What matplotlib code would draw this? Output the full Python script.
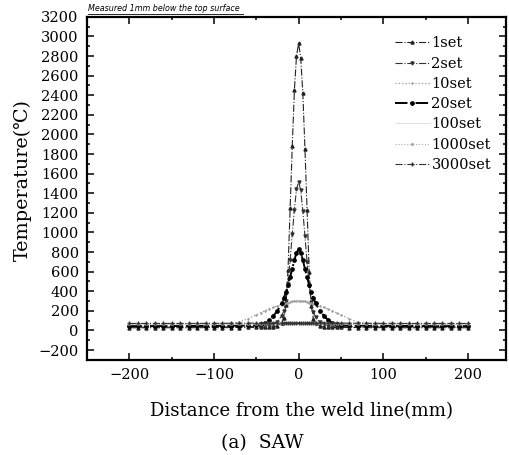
import matplotlib
matplotlib.use("Agg")
import matplotlib.pyplot as plt
from matplotlib.ticker import MultipleLocator
from matplotlib.lines import Line2D

plt.rcParams['font.family'] = ['DejaVu Serif', 'DejaVu Sans']

# distance from weld line (mm), shared by all series
dist = [-200, -190, -180, -170, -160, -150, -140, -130, -120, -110, -100, -90, -80, -70, -60,
        -50, -45, -40, -35, -30, -25,
        -20, -17.5, -15, -12.5, -10, -7.5, -5, -2.5,
        0,
        2.5, 5, 7.5, 10, 12.5, 15, 17.5, 20,
        25, 30, 35, 40, 45, 50,
        60, 70, 80, 90, 100, 110, 120, 130, 140, 150, 160, 170, 180, 190, 200]

t_1set = [28, 28, 28, 28, 28, 28, 28, 28, 29, 29, 29, 29, 30, 30, 31,
          31, 32, 33, 35, 38, 48,
          80, 130, 260, 620, 1250, 1880, 2450, 2800,
          2930,
          2780, 2420, 1850, 1230, 600, 250, 120, 75,
          45, 37, 34, 32, 31, 31,
          30, 30, 29, 29, 29, 29, 28, 28, 28, 28, 28, 28, 28, 28, 28]

t_2set = [35, 35, 35, 35, 35, 35, 35, 36, 36, 36, 37, 37, 38, 39, 40,
          42, 44, 48, 53, 62, 90,
          150, 200, 300, 470, 720, 980, 1230, 1440,
          1520,
          1430, 1220, 960, 700, 450, 290, 190, 140,
          85, 62, 50, 45, 42, 40,
          39, 38, 37, 37, 36, 36, 35, 35, 35, 35, 35, 35, 35, 35, 35]

t_10set = [62, 62, 62, 63, 63, 63, 64, 65, 66, 67, 68, 70, 72, 85, 120,
           160, 180, 200, 220, 235, 250,
           262, 270, 278, 284, 290, 296, 300, 303,
           305,
           303, 300, 296, 290, 284, 278, 270, 262,
           250, 235, 220, 200, 180, 160,
           120, 85, 72, 70, 68, 67, 66, 65, 64, 63, 63, 63, 62, 62, 62]

t_20set = [45, 45, 45, 45, 45, 45, 46, 46, 46, 47, 47, 48, 49, 50, 52,
           58, 64, 75, 105, 150, 200,
           280, 330, 390, 460, 545, 630, 720, 790,
           830,
           790, 720, 630, 545, 460, 390, 330, 280,
           200, 150, 105, 75, 64, 58,
           52, 50, 49, 48, 47, 47, 46, 46, 46, 45, 45, 45, 45, 45, 45]

t_100set = [60, 60, 60, 60, 60, 60, 60, 60, 61, 61, 61, 62, 62, 63, 64,
            65, 66, 67, 68, 70, 72,
            74, 75, 76, 77, 78, 79, 80, 80,
            80,
            80, 80, 79, 78, 77, 76, 75, 74,
            72, 70, 68, 67, 66, 65,
            64, 63, 62, 62, 61, 61, 61, 60, 60, 60, 60, 60, 60, 60, 60]

t_1000set = [65, 65, 65, 65, 65, 65, 65, 65, 66, 66, 66, 66, 67, 67, 68,
             69, 70, 71, 72, 73, 74,
             75, 76, 76, 77, 77, 78, 78, 78,
             78,
             78, 78, 78, 77, 77, 76, 76, 75,
             74, 73, 72, 71, 70, 69,
             68, 67, 67, 66, 66, 66, 66, 65, 65, 65, 65, 65, 65, 65, 65]

t_3000set = [72, 72, 72, 72, 72, 72, 72, 72, 73, 73, 73, 73, 74, 74, 75,
             76, 77, 78, 78, 78, 78,
             78, 78, 78, 78, 78, 78, 78, 78,
             78,
             78, 78, 78, 78, 78, 78, 78, 78,
             78, 78, 78, 78, 77, 76,
             75, 74, 74, 73, 73, 73, 73, 72, 72, 72, 72, 72, 72, 72, 72]

series = [
    ('1set', t_1set, dict(color='#222222', ls='-.', lw=0.8, marker='^', ms=2.2)),
    ('2set', t_2set, dict(color='#333333', ls='-.', lw=0.8, marker='v', ms=2.2)),
    ('10set', t_10set, dict(color='#999999', ls=':', lw=0.9, marker='.', ms=1.5)),
    ('20set', t_20set, dict(color='#000000', ls='-.', lw=1.4, marker='o', ms=2.4)),
    ('100set', t_100set, dict(color='#dddddd', ls='-', lw=0.6, marker='', ms=0)),
    ('1000set', t_1000set, dict(color='#aaaaaa', ls=':', lw=0.8, marker='.', ms=2.5)),
    ('3000set', t_3000set, dict(color='#333333', ls='-.', lw=0.8, marker='+', ms=3)),
]

fig = plt.figure(figsize=(5.09, 4.55), dpi=100)
ax = fig.add_axes([0.171, 0.209, 0.823, 0.754])

for name, temps, style in series:
    ax.plot(dist, temps, label=name, **style)

ax.set_xlim(-250, 245)
ax.set_ylim(-300, 3200)
ax.xaxis.set_major_locator(MultipleLocator(100))
ax.xaxis.set_minor_locator(MultipleLocator(50))
ax.yaxis.set_major_locator(MultipleLocator(200))
ax.yaxis.set_minor_locator(MultipleLocator(100))
ax.tick_params(which='both', direction='in', top=True, right=True, labelsize=10.5, width=1.1)
ax.tick_params(which='major', length=5, pad=6)
ax.tick_params(which='minor', length=2.5)
for sp in ax.spines.values():
    sp.set_linewidth(1.6)

ax.set_ylabel('Temperature(℃)', fontsize=13.8)
ax.yaxis.set_label_coords(-0.131, 0.523)
ax.set_xlabel('Distance from the weld line(mm)', fontsize=13.1)
ax.xaxis.set_label_coords(0.512, -0.123)
fig.text(0.515, 0.026, '(a)  SAW', ha='center', va='center', fontsize=13.5)

fig.text(0.172, 0.972, 'Measured 1mm below the top surface', fontsize=5.8,
         style='italic', family='DejaVu Sans', va='bottom')
fig.add_artist(Line2D([0.172, 0.478], [0.969, 0.969], color='black', lw=0.6))

ax.legend(loc='upper left', bbox_to_anchor=(0.735, 0.943), borderaxespad=0,
          frameon=False, fontsize=10.5, handlelength=2.4, handletextpad=0.1,
          labelspacing=0.43, numpoints=1, borderpad=0)

fig.savefig('out.png', dpi=100)
